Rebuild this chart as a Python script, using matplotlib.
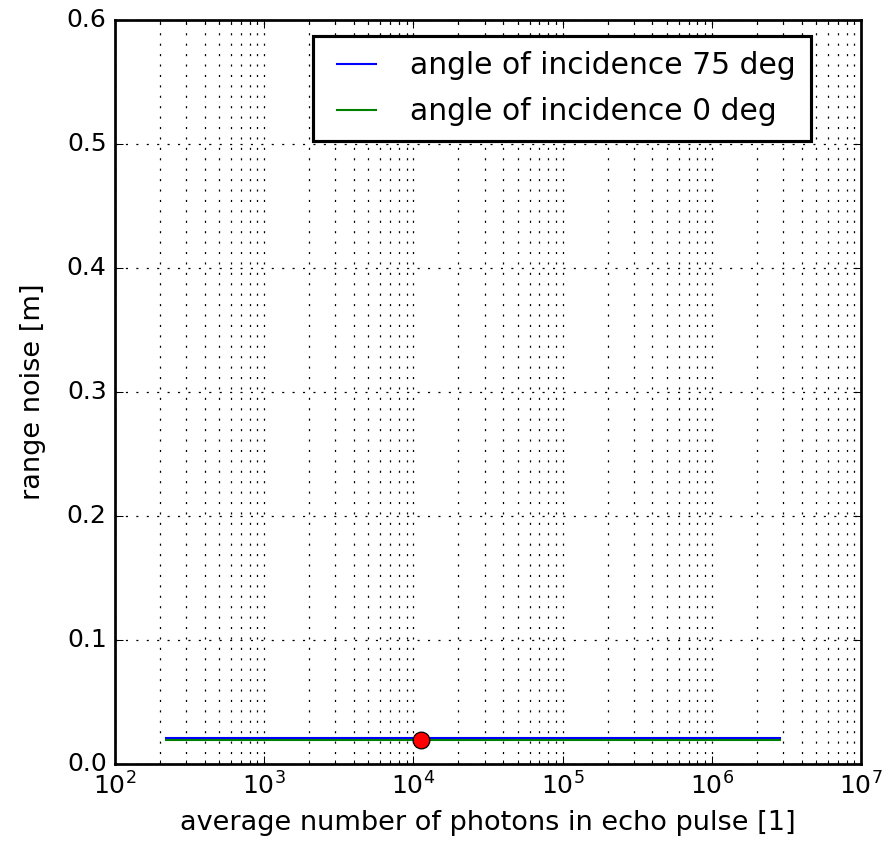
import matplotlib
matplotlib.use("Agg")
import matplotlib.pyplot as plt

plt.style.use("classic")

# photon counts spanned by the simulation and the resulting range noise
photons = [220, 2.85e6]
noise_75deg = [0.0207, 0.0207]
noise_0deg = [0.0197, 0.0197]

# operating point
op_photons = [1.13e4]
op_noise = [0.0197]

DPI = 150
fig = plt.figure(figsize=(893 / DPI, 846 / DPI), dpi=DPI)
ax = fig.add_axes([115 / 893, 1 - 764 / 846, (861 - 115) / 893, (764 - 20) / 846])

ax.semilogx(photons, noise_75deg, color="b", lw=1, label="angle of incidence 75 deg")
ax.semilogx(photons, noise_0deg, color="g", lw=1, label="angle of incidence 0 deg")
ax.plot(op_photons, op_noise, "o", color="r", markersize=8, markeredgecolor="k",
        markeredgewidth=0.6, zorder=5)

ax.set_xlim(1e2, 1e7)
ax.set_ylim(0, 0.6)
ax.grid(True, which="both", axis="x", color="k", linestyle=(0, (1, 4)), linewidth=0.6)
ax.grid(True, which="major", axis="y", color="k", linestyle=(0, (1, 4)), linewidth=0.6)

ax.tick_params(labelsize=12)
ax.tick_params(which="major", length=4)
ax.tick_params(which="minor", length=2)
ax.set_xlabel("average number of photons in echo pulse [1]", fontsize=13)
ax.set_ylabel("range noise [m]", fontsize=13, labelpad=10)
for s in ax.spines.values():
    s.set_linewidth(1.3)

leg = ax.legend(loc="upper right", bbox_to_anchor=(0.933, 0.978), borderaxespad=0,
                fontsize=14.3, handlelength=1.92, handletextpad=0.85, labelspacing=0.56,
                borderpad=0.5)
leg.get_frame().set_linewidth(1.5)

fig.savefig("out.png", dpi=DPI)
